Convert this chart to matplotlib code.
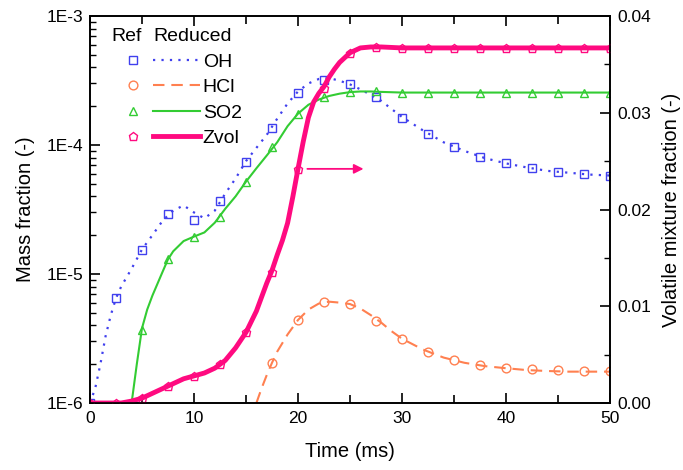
import matplotlib
matplotlib.use('Agg')
import matplotlib.pyplot as plt
from matplotlib.ticker import LogLocator, MultipleLocator, NullFormatter, FixedFormatter, FixedLocator

plt.rcParams['font.family'] = ['Liberation Sans', 'DejaVu Sans']
plt.rcParams['font.size'] = 12

# reference (detailed mechanism) markers, every 2.5 ms
t_ref = [0, 2.5, 5, 7.5, 10, 12.5, 15, 17.5, 20, 22.5, 25, 27.5, 30, 32.5, 35,
         37.5, 40, 42.5, 45, 47.5, 50]
oh_ref = [1.0e-6, 6.5e-6, 1.53e-5, 2.92e-5, 2.62e-5, 3.68e-5, 7.4e-5, 1.36e-4, 2.53e-4,
          3.19e-4, 2.97e-4, 2.35e-4, 1.62e-4, 1.22e-4, 9.6e-5, 8.1e-5, 7.2e-5, 6.6e-5,
          6.2e-5, 6.0e-5, 5.8e-5]
so2_ref = [None, None, 3.7e-6, 1.3e-5, 1.94e-5, 2.77e-5, 5.2e-5, 9.7e-5, 1.74e-4, 2.36e-4,
           2.58e-4, 2.62e-4, 2.55e-4, 2.55e-4, 2.55e-4, 2.55e-4, 2.55e-4, 2.55e-4,
           2.55e-4, 2.55e-4, 2.55e-4]
hcl_ref = [None, None, None, None, None, None, None, 2.04e-6, 4.4e-6, 6.07e-6, 5.85e-6,
           4.33e-6, 3.13e-6, 2.49e-6, 2.15e-6, 1.97e-6, 1.87e-6, 1.82e-6, 1.8e-6, 1.78e-6,
           1.78e-6]
zvol_ref = [0.0, 0.0, 0.0005, 0.0018, 0.0028, 0.0040, 0.0073, 0.0135, 0.0242, 0.0326,
            0.0362, 0.0368, 0.0367, 0.0367, 0.0367, 0.0367, 0.0367, 0.0367, 0.0367,
            0.0367, 0.0367]

# reduced mechanism curves
t_oh = [0, 0.5, 1, 1.5, 2, 2.5, 3, 4, 5, 6, 7, 8, 9, 10, 11, 12, 13, 14, 15, 16, 17,
        18, 19, 20, 21, 22, 23, 24, 25, 26, 27, 28, 29, 30, 32, 34, 36, 38, 40, 42,
        44, 46, 48, 50]
oh_red = [1.0e-6, 1.3e-6, 2.0e-6, 3.3e-6, 4.8e-6, 6.5e-6, 8.0e-6, 1.1e-5, 1.55e-5,
          2.0e-5, 2.6e-5, 3.1e-5, 3.4e-5, 3.0e-5, 2.7e-5, 3.1e-5, 4.2e-5, 5.5e-5, 7.5e-5,
          9.5e-5, 1.2e-4, 1.6e-4, 2.1e-4, 2.6e-4, 3.0e-4, 3.25e-4, 3.3e-4, 3.15e-4,
          2.95e-4, 2.7e-4, 2.45e-4, 2.2e-4, 1.9e-4, 1.65e-4, 1.3e-4, 1.05e-4, 9.0e-5,
          7.9e-5, 7.2e-5, 6.7e-5, 6.3e-5, 6.1e-5, 5.9e-5, 5.8e-5]

t_so2 = [4.0, 4.5, 5, 5.5, 6, 7, 7.5, 8, 9, 10, 11, 12, 13, 14, 15, 16, 17, 18, 19, 20,
         21, 22, 23, 24, 25, 26, 27, 28, 30, 35, 40, 45, 50]
so2_red = [1.0e-6, 2.0e-6, 3.8e-6, 5.3e-6, 6.8e-6, 1.05e-5, 1.3e-5, 1.5e-5, 1.8e-5,
           1.95e-5, 2.1e-5, 2.5e-5, 3.2e-5, 4.0e-5, 5.2e-5, 6.6e-5, 8.3e-5, 1.05e-4,
           1.4e-4, 1.75e-4, 2.05e-4, 2.25e-4, 2.4e-4, 2.5e-4, 2.57e-4, 2.6e-4, 2.6e-4,
           2.58e-4, 2.55e-4, 2.55e-4, 2.55e-4, 2.55e-4, 2.55e-4]

t_hcl = [16.0, 16.5, 17, 17.5, 18, 19, 20, 21, 22, 23, 24, 25, 26, 27, 28, 29, 30, 32,
         34, 36, 38, 40, 42, 44, 46, 48, 50]
hcl_red = [1.0e-6, 1.3e-6, 1.65e-6, 2.05e-6, 2.5e-6, 3.4e-6, 4.4e-6, 5.3e-6, 5.9e-6,
           6.1e-6, 6.0e-6, 5.85e-6, 5.4e-6, 4.8e-6, 4.2e-6, 3.6e-6, 3.15e-6, 2.6e-6,
           2.25e-6, 2.05e-6, 1.93e-6, 1.86e-6, 1.8e-6, 1.77e-6, 1.75e-6, 1.75e-6, 1.75e-6]

t_zvol = [0, 2, 3, 4, 5, 6, 7, 8, 9, 10, 11, 12, 13, 14, 15, 16, 17, 17.5, 18, 18.5, 19,
          19.5, 20, 20.5, 21, 21.5, 22, 22.5, 23, 23.5, 24, 25, 26, 27, 28, 30, 40, 50]
zvol_red = [0.0, 0.0, 0.0, 0.0002, 0.0005, 0.0010, 0.0015, 0.0020, 0.0025, 0.0028,
            0.0031, 0.0036, 0.0044, 0.0057, 0.0073, 0.0095, 0.0124, 0.0137, 0.0153,
            0.0168, 0.0186, 0.0213, 0.0242, 0.0270, 0.0295, 0.0311, 0.0320, 0.0327,
            0.0337, 0.0345, 0.0352, 0.0362, 0.0367, 0.0368, 0.0368, 0.0367, 0.0367,
            0.0367]

C_OH = '#4040ee'
C_HCL = '#ff8050'
C_SO2 = '#33cc33'
C_ZV = '#ff0a80'
FS_TICK = 12.5
FS_LAB = 14.5
FS_LEG = 14

fig = plt.figure(figsize=(6.83, 4.70), dpi=100)
ax = fig.add_axes([90 / 683, 1 - 403 / 470, 520 / 683, 387 / 470])
ax2 = ax.twinx()

mk = dict(linestyle='none', markerfacecolor='none', markersize=6.3, markeredgewidth=1.0)

l_oh, = ax.plot(t_oh, oh_red, color=C_OH, lw=1.6, linestyle=(0, (1, 2.8)))
l_hcl, = ax.plot(t_hcl, hcl_red, color=C_HCL, lw=1.5, linestyle=(0, (5.5, 3.3)))
l_so2, = ax.plot(t_so2, so2_red, color=C_SO2, lw=1.5)
m_oh, = ax.plot(t_ref, oh_ref, marker='s', color=C_OH, **mk)
m_hcl, = ax.plot(t_ref, hcl_ref, marker='o', color=C_HCL, **mk)
m_so2, = ax.plot(t_ref, so2_ref, marker='^', color=C_SO2, **mk)

l_zv, = ax2.plot(t_zvol, zvol_red, color=C_ZV, lw=3.5)
m_zv, = ax2.plot(t_ref, zvol_ref, marker='p', color=C_ZV, **mk)

# arrow pointing Zvol to the right-hand axis
ax2.annotate('', xy=(26.3, zvol_ref[8]), xytext=(20.9, zvol_ref[8]),
             arrowprops=dict(arrowstyle='-|>', color=C_ZV, lw=1.3,
                             mutation_scale=14, shrinkA=0, shrinkB=0))

ax.set_yscale('log')
ax.set_xlim(0, 50)
ax.set_ylim(1e-6, 1e-3)
ax2.set_ylim(0, 0.04)

ax.xaxis.set_major_locator(MultipleLocator(10))
ax.xaxis.set_minor_locator(MultipleLocator(5))
ax.yaxis.set_major_locator(FixedLocator([1e-6, 1e-5, 1e-4, 1e-3]))
ax.yaxis.set_major_formatter(FixedFormatter(['1E-6', '1E-5', '1E-4', '1E-3']))
ax.yaxis.set_minor_locator(LogLocator(base=10, subs=range(2, 10)))
ax.yaxis.set_minor_formatter(NullFormatter())
ax2.yaxis.set_major_locator(MultipleLocator(0.01))
ax2.yaxis.set_minor_locator(MultipleLocator(0.005))
ax2.yaxis.set_major_formatter(plt.FuncFormatter(lambda v, p: f'{v:.2f}'))

ax.tick_params(axis='x', which='both', direction='in', top=True, labelsize=FS_TICK,
               width=1.2, pad=5.5)
ax.tick_params(axis='x', which='major', length=7)
ax.tick_params(axis='x', which='minor', length=6)
ax.tick_params(axis='y', which='major', direction='in', length=7, width=1.2,
               labelsize=FS_TICK, pad=5)
ax.tick_params(axis='y', which='minor', direction='in', length=4, width=1.0)
ax2.tick_params(axis='y', which='major', direction='in', length=7, width=1.2,
                labelsize=FS_TICK, pad=5)
ax2.tick_params(axis='y', which='minor', direction='in', length=4, width=1.0)

for a in (ax, ax2):
    for s in a.spines.values():
        s.set_linewidth(1.2)

ax.set_xlabel('Time (ms)', fontsize=FS_LAB, labelpad=12)
ax.set_ylabel('Mass fraction (-)', fontsize=FS_LAB, labelpad=8)
ax2.set_ylabel('Volatile mixture fraction (-)', fontsize=FS_LAB, labelpad=8)

names = ['OH', 'HCl', 'SO2', 'Zvol']
leg1 = ax2.legend([m_oh, m_hcl, m_so2, m_zv], [' '] * 4, title='Ref', alignment='left',
                  loc='upper left', bbox_to_anchor=(0.0254, 0.988), frameon=False,
                  handlelength=2.3, handletextpad=0.0, labelspacing=0.40,
                  fontsize=FS_LEG, title_fontsize=FS_LEG, borderaxespad=0)
ax2.add_artist(leg1)
ax2.legend([l_oh, l_hcl, l_so2, l_zv], names, title='Reduced', alignment='left',
           loc='upper left', bbox_to_anchor=(0.106, 0.988), frameon=False,
           handlelength=2.42, handletextpad=0.15, labelspacing=0.40,
           fontsize=FS_LEG, title_fontsize=FS_LEG, borderaxespad=0)

fig.savefig('out.png', dpi=100)
